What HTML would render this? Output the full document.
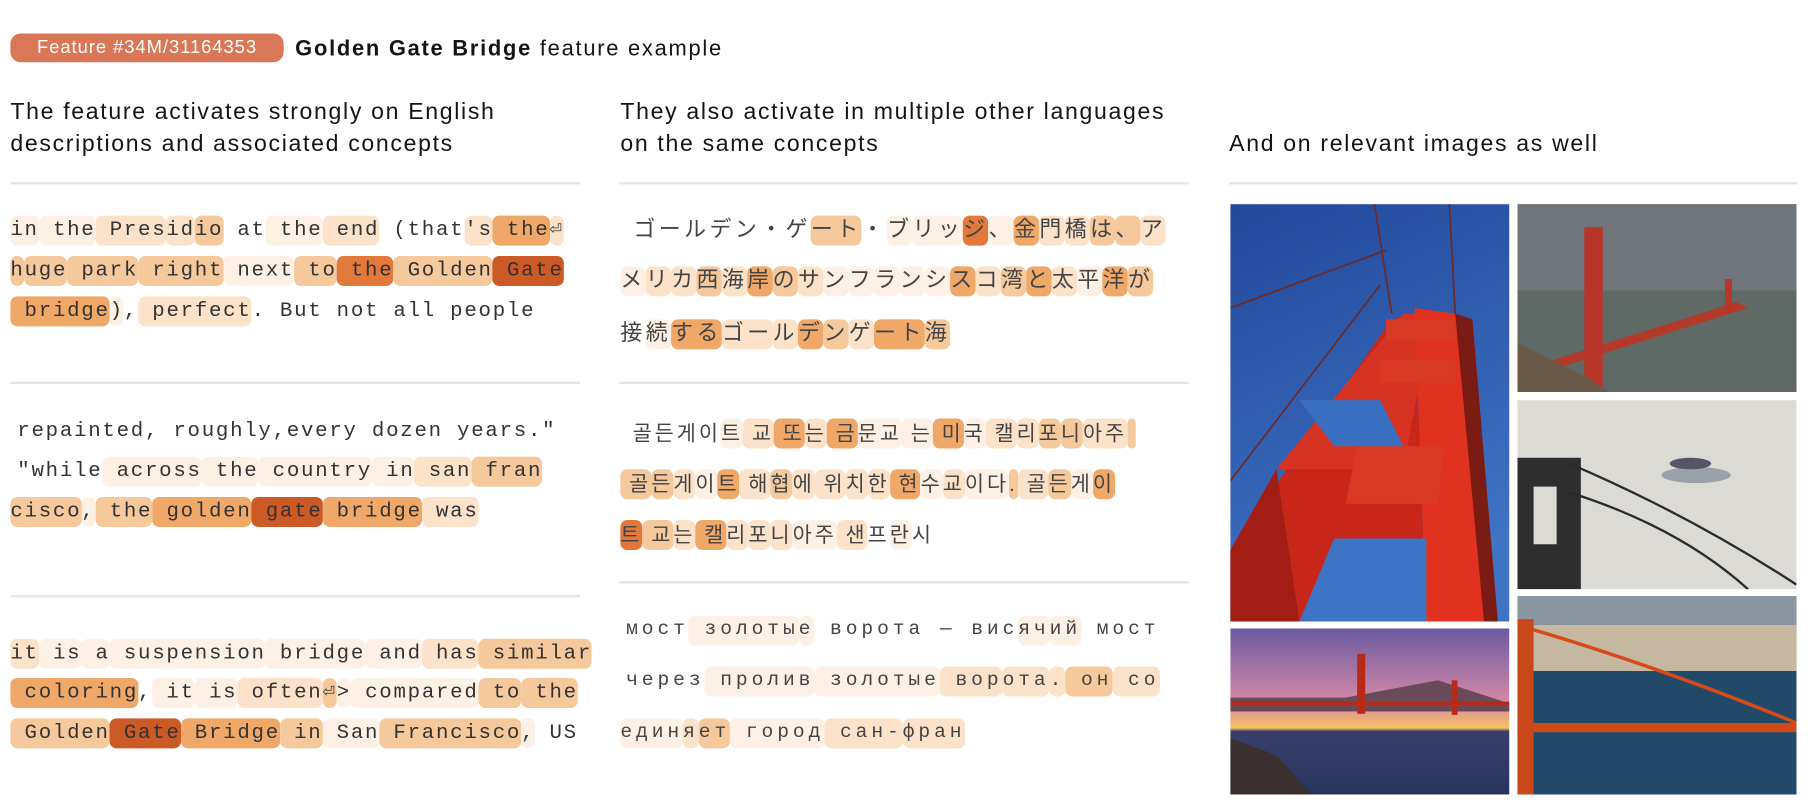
<!DOCTYPE html>
<html><head><meta charset="utf-8">
<style>
html,body{margin:0;padding:0;background:#fff;}
body{width:1808px;height:812px;overflow:hidden;position:relative;}
#w{position:absolute;left:0;top:0;width:1568px;height:704px;transform:scale(1.15306);transform-origin:0 0;}
.sans{font-family:"Liberation Sans","DejaVu Sans",sans-serif;color:#141413;}
.badge{position:absolute;left:9px;top:29px;width:237px;height:25px;background:#d97757;border-radius:9px;color:#fff;font-family:"Liberation Sans",sans-serif;font-size:16px;line-height:25px;text-align:center;letter-spacing:0.8px;}
.title{position:absolute;left:256px;top:30px;font-size:19px;line-height:26px;letter-spacing:1.5px;}
.hd{position:absolute;font-size:20px;line-height:28px;letter-spacing:1.45px;}
.rule{position:absolute;height:2px;background:#e6e4de;}
.row{position:absolute;height:28px;line-height:26px;white-space:pre;color:#333;}
.m{font-family:"Liberation Mono","DejaVu Sans Mono",monospace;font-size:18px;letter-spacing:1.5px;}
.j{font-family:"Liberation Sans","Noto Sans CJK JP",sans-serif;font-size:19px;letter-spacing:3px;color:#444;}
.k{font-family:"Liberation Sans","Noto Sans CJK KR",sans-serif;font-size:18px;letter-spacing:2.6px;color:#444;}
.r{font-family:"Liberation Mono","DejaVu Sans Mono",monospace;font-size:17px;letter-spacing:3.4px;color:#444;}
.row span{display:inline-block;height:26px;border-radius:6px;}
.l1{background:#fdf1e5}.l2{background:#fbe2c9}.l3{background:#f6c99c}.l4{background:#f0a868}.l5{background:#e2783a}.l6{background:#cc5a26}
.img{position:absolute;overflow:hidden;}
</style></head><body><div id="w">
<div class="badge">Feature #34M/31164353</div>
<div class="title sans"><b>Golden Gate Bridge</b> feature example</div>
<div class="hd sans" style="left:9px;top:83px">The feature activates strongly on English<br>descriptions and associated concepts</div>
<div class="hd sans" style="left:538px;top:83px">They also activate in multiple other languages<br>on the same concepts</div>
<div class="hd sans" style="left:1066px;top:111px">And on relevant images as well</div>
<div class="rule" style="left:9px;top:158px;width:494px"></div>
<div class="rule" style="left:537px;top:158px;width:494px"></div>
<div class="rule" style="left:1066px;top:158px;width:493px"></div>
<div class="rule" style="left:9px;top:331px;width:494px"></div>
<div class="rule" style="left:9px;top:516px;width:494px"></div>
<div class="rule" style="left:537px;top:331px;width:494px"></div>
<div class="rule" style="left:537px;top:504px;width:494px"></div>

<!-- col1 -->
<div class="row m" style="left:9px;top:187px"><span class="l1">in</span><span class="l1"> the</span><span class="l2"> Pres</span><span class="l2">id</span><span class="l3">io</span> at<span class="l1"> the</span><span class="l2"> end</span> (that<span class="l2">'s</span><span class="l4"> the</span><span class="l2">⏎</span></div>
<div class="row m" style="left:9px;top:222px"><span class="l3">h</span><span class="l3">uge</span><span class="l3"> park</span><span class="l3"> right</span><span class="l1"> next</span><span class="l3"> to</span><span class="l5"> the</span><span class="l3"> Golden</span><span class="l6"> Gate</span></div>
<div class="row m" style="left:9px;top:257px"><span class="l4"> bridge</span><span class="l1">)</span>,<span class="l2"> perfect</span>. But not all people</div>

<div class="row m" style="left:15px;top:361px">repainted, roughly,every dozen years."</div>
<div class="row m" style="left:15px;top:396px">"while<span class="l1"> across</span><span class="l1"> the</span><span class="l1"> country</span><span class="l1"> in</span><span class="l2"> san</span><span class="l3"> fran</span></div>
<div class="row m" style="left:9px;top:431px"><span class="l3">cisco</span><span class="l1">,</span><span class="l3"> the</span><span class="l4"> golden</span><span class="l6"> gate</span><span class="l4"> bridge</span><span class="l2"> was</span></div>

<div class="row m" style="left:9px;top:554px"><span class="l2">it</span><span class="l1"> is</span><span class="l1"> a</span><span class="l1"> suspension</span><span class="l1"> bridge</span><span class="l1"> and</span><span class="l2"> has</span><span class="l3"> similar</span></div>
<div class="row m" style="left:9px;top:588px"><span class="l4"> coloring</span>,<span class="l1"> it</span><span class="l1"> is</span><span class="l2"> often</span><span class="l3">⏎</span><span class="l1">&gt;</span><span class="l1"> compared</span><span class="l3"> to</span><span class="l3"> the</span></div>
<div class="row m" style="left:9px;top:623px"><span class="l3"> Golden</span><span class="l6"> Gate</span><span class="l4"> Bridge</span><span class="l3"> in</span><span class="l1"> San</span><span class="l3"> Francisco</span><span class="l1">,</span> US</div>

<!-- col2 -->
<div class="row j" style="left:541px;top:187px"> ゴールデン・ゲ<span class="l3">ート</span>・<span class="l1">ブ</span><span class="l1">リッ</span><span class="l5">ジ</span><span class="l1">、</span><span class="l4">金</span><span class="l2">門</span><span class="l2">橋</span><span class="l3">は</span><span class="l3">、</span><span class="l2">ア</span></div>
<div class="row j" style="left:538px;top:231px"><span class="l1">メ</span><span class="l2">リ</span><span class="l2">カ</span><span class="l3">西</span><span class="l2">海</span><span class="l4">岸</span><span class="l3">の</span><span class="l2">サ</span><span class="l1">ン</span><span class="l1">フ</span><span class="l1">ラ</span><span class="l1">ン</span><span class="l1">シ</span><span class="l4">ス</span><span class="l2">コ</span><span class="l3">湾</span><span class="l4">と</span><span class="l2">太</span><span class="l1">平</span><span class="l4">洋</span><span class="l3">が</span></div>
<div class="row j" style="left:538px;top:277px">接<span class="l1">続</span><span class="l4">する</span><span class="l2">ゴー</span><span class="l2">ル</span><span class="l4">デ</span><span class="l3">ン</span><span class="l2">ゲ</span><span class="l4">ート</span><span class="l3">海</span></div>

<div class="row k" style="left:541px;top:363px"> 골든게이<span class="l1">트</span><span class="l2"> 교</span><span class="l4"> 또</span><span class="l2">는</span><span class="l4"> 금</span><span class="l1">문교</span><span class="l1"> 는</span><span class="l4"> 미</span><span class="l1">국</span><span class="l2"> 캘</span><span class="l2">리</span><span class="l3">포</span><span class="l3">니</span><span class="l2">아주</span><span class="l3"> </span></div>
<div class="row k" style="left:538px;top:407px"><span class="l3"> 골</span><span class="l3">든</span><span class="l2">게</span><span class="l1">이</span><span class="l4">트</span><span class="l2"> 해</span><span class="l3">협</span><span class="l2">에</span><span class="l2"> 위</span><span class="l2">치</span><span class="l2">한</span><span class="l4"> 현</span><span class="l1">수</span><span class="l2">교</span><span class="l1">이다</span><span class="l3">.</span><span class="l2"> 골</span><span class="l3">든</span><span class="l1">게</span><span class="l4">이</span></div>
<div class="row k" style="left:538px;top:451px"><span class="l5">트</span><span class="l3"> 교</span><span class="l2">는</span><span class="l4"> 캘</span><span class="l2">리</span><span class="l2">포</span><span class="l2">니</span><span class="l1">아주</span><span class="l2"> 샌</span>프<span class="l1">란</span>시</div>

<div class="row r" style="left:543px;top:534px">мост<span class="l1"> золоты</span><span class="l1">е</span> вор<span>ота — вис</span><span class="l1">яч</span><span class="l1">ий</span> мост</div>
<div class="row r" style="left:543px;top:578px">через<span class="l1"> пролив</span><span class="l1"> золотые</span><span class="l2"> вор</span><span class="l2">ота</span><span class="l2">.</span><span class="l3"> он</span><span class="l2"> со</span></div>
<div class="row r" style="left:538px;top:623px"><span class="l1">един</span><span class="l2">я</span><span class="l3">ет</span><span class="l1"> город</span><span class="l2"> сан-</span><span class="l2">фран</span></div>

<!-- images -->
<svg class="img" style="left:1067px;top:177px" width="242" height="362" viewBox="0 0 242 362">
<defs><linearGradient id="sky" x1="0" y1="0" x2="0.3" y2="1"><stop offset="0" stop-color="#22489a"/><stop offset="1" stop-color="#3f73c4"/></linearGradient></defs>
<rect width="242" height="362" fill="url(#sky)"/>
<g stroke="#6a2a2a" stroke-width="1.5" fill="none"><line x1="0" y1="90" x2="135" y2="40"/><line x1="0" y1="240" x2="130" y2="70"/><line x1="125" y1="0" x2="140" y2="95"/><line x1="190" y1="0" x2="195" y2="95"/><line x1="60" y1="362" x2="150" y2="250"/><line x1="100" y1="362" x2="160" y2="260"/><line x1="140" y1="362" x2="170" y2="270"/></g>
<polygon points="0,300 140,100 160,95 170,362 0,362" fill="#c9261a"/>
<polygon points="40,230 150,95 175,95 150,230" fill="#d73323"/>
<polygon points="160,90 195,95 230,362 170,362" fill="#e0321f"/>
<polygon points="195,95 210,100 232,362 220,362" fill="#7a1c14"/>
<rect x="135" y="100" width="60" height="18" fill="#d83a25"/>
<rect x="130" y="135" width="65" height="20" fill="#d83a25"/>
<polygon points="110,210 185,210 180,260 100,260" fill="#d83a25"/>
<polygon points="60,170 130,170 150,210 90,210" fill="#3a6ec0"/>
<polygon points="90,290 170,290 170,362 60,362" fill="#3d74c6"/>
<polygon points="0,300 40,230 60,362 0,362" fill="#a21e14"/>
</svg>
<svg class="img" style="left:1067px;top:545px" width="242" height="144" viewBox="0 0 242 144">
<defs><linearGradient id="sun" x1="0" y1="0" x2="0" y2="1"><stop offset="0" stop-color="#6b5aa0"/><stop offset="0.45" stop-color="#d68aa8"/><stop offset="0.6" stop-color="#f6c060"/><stop offset="0.62" stop-color="#3a3f6a"/><stop offset="1" stop-color="#27345e"/></linearGradient></defs>
<rect width="242" height="144" fill="url(#sun)"/>
<polygon points="100,60 180,45 242,65 242,72 0,72 0,60" fill="#6a4a58"/>
<line x1="0" y1="65" x2="242" y2="65" stroke="#b22a1a" stroke-width="3"/>
<rect x="110" y="22" width="7" height="52" fill="#b82a18"/><rect x="192" y="45" width="5" height="30" fill="#b82a18"/>
<polygon points="0,95 40,110 70,144 0,144" fill="#3a3030"/>
</svg>
<svg class="img" style="left:1316px;top:177px" width="242" height="163" viewBox="0 0 242 163">
<rect width="242" height="163" fill="#5d6466"/><rect width="242" height="75" fill="#6f7579"/>
<rect y="75" width="242" height="88" fill="#5f6a66"/>
<polygon points="0,145 190,85 200,90 10,150" fill="#b43a2a"/>
<rect x="58" y="20" width="16" height="140" fill="#b8352a"/>
<rect x="180" y="65" width="6" height="30" fill="#b8352a"/>
<polygon points="0,120 60,150 80,163 0,163" fill="#6a5a4a"/>
</svg>
<svg class="img" style="left:1316px;top:347px" width="242" height="164" viewBox="0 0 242 164">
<rect width="242" height="164" fill="#dcdad5"/>
<rect x="0" y="50" width="55" height="114" fill="#2e2e2e"/><rect x="14" y="75" width="20" height="50" fill="#dcdad5"/>
<g stroke="#2a2a2a" stroke-width="2" fill="none"><path d="M45,55 Q150,100 242,160"/><path d="M45,80 Q140,110 200,164"/></g>
<ellipse cx="155" cy="65" rx="30" ry="7" fill="#9aa0a8"/><ellipse cx="150" cy="55" rx="18" ry="5" fill="#556"/>
</svg>
<svg class="img" style="left:1316px;top:517px" width="242" height="172" viewBox="0 0 242 172">
<rect width="242" height="172" fill="#1e4460"/><rect width="242" height="25" fill="#8a96a0"/>
<rect y="25" width="242" height="40" fill="#c6b8a0"/>
<rect y="65" width="242" height="107" fill="#224a68"/>
<path d="M0,25 Q120,60 242,110" stroke="#d84a1a" stroke-width="3" fill="none"/>
<rect x="0" y="110" width="242" height="8" fill="#d04a18"/>
<rect x="0" y="20" width="14" height="152" fill="#c8481a"/>
</svg>
</div></body></html>
